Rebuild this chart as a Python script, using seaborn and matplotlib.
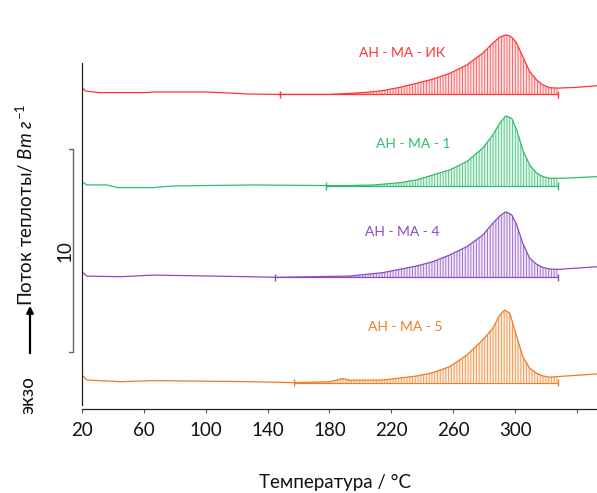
import numpy as np
import pandas as pd
import matplotlib
matplotlib.use("Agg")
import matplotlib.pyplot as plt
import seaborn as sns

# ---------------- data ----------------
t_ik = [20, 22, 31, 63, 66, 100, 128, 147, 180, 193, 205, 214.5, 225, 236.5, 246.8, 257.8,
        268.8, 279.1, 285.6, 290.1, 294, 296.6, 298.5, 301.1, 305, 309.5, 314, 317.9, 322.4,
        327.6, 340, 353]
v_ik = [0.37, 0.17, 0.09, 0.09, 0.12, 0.12, 0.02, 0.0, 0.0, 0.05, 0.11, 0.19, 0.34, 0.55,
        0.75, 1.04, 1.45, 2.03, 2.52, 2.82, 2.93, 2.88, 2.77, 2.52, 1.86, 1.12, 0.71, 0.47,
        0.33, 0.31, 0.35, 0.43]

t_1 = [20, 23, 36, 43, 66, 79, 130, 178, 193, 209, 225.5, 236.5, 246.8, 257.8, 268.8,
       279.1, 285.6, 290.1, 294, 297.9, 301.1, 305, 309.5, 314, 317.9, 322.4, 327.6,
       331, 353]
v_1 = [0.21, 0.05, 0.05, -0.08, -0.08, 0.0, 0.05, 0.02, 0.02, 0.05, 0.16, 0.30, 0.54,
       0.79, 1.20, 1.86, 2.51, 3.09, 3.45, 3.33, 2.76, 1.77, 1.03, 0.63, 0.46, 0.38, 0.38,
       0.38, 0.46]

t_4 = [20, 23, 45, 66, 128, 145, 193, 214.5, 236.5, 246.8, 257.8, 268.8, 279.1, 285.6,
       290.1, 294, 297.9, 301.1, 305, 309.5, 314, 317.9, 322.4, 327.6, 353]
v_4 = [0.28, 0.06, 0.03, 0.11, 0.03, 0.0, 0.06, 0.23, 0.56, 0.77, 1.10, 1.51, 2.08, 2.66,
       3.02, 3.23, 3.07, 2.58, 1.67, 0.94, 0.64, 0.49, 0.41, 0.39, 0.52]

t_5 = [20, 23, 45, 66, 128, 157, 180.3, 188.7, 193.2, 214.5, 236.5, 246.8, 257.8, 268.8,
       279.1, 285.6, 290.1, 293.3, 296.6, 301.1, 305, 309.5, 314, 317.9, 322.4, 327.6, 353]
v_5 = [0.38, 0.13, 0.05, 0.10, 0.05, 0.0, 0.05, 0.20, 0.12, 0.13, 0.33, 0.49, 0.79, 1.36,
       2.10, 2.68, 3.33, 3.58, 3.42, 2.27, 1.28, 0.71, 0.46, 0.33, 0.27, 0.30, 0.43]

labels = ["АН - МА - ИК", "АН - МА - 1", "АН - МА - 4", "АН - МА - 5"]
offsets = [15.30, 10.79, 6.29, 1.10]
int_start = [148, 178, 145, 157]
int_end = [327.6, 327.6, 327.6, 327.6]
x_ticks = [20, 60, 100, 140, 180, 220, 260, 300, 340]
x_ticklabels = ["20", "60", "100", "140", "180", "220", "260", "300", ""]
scale_bar = 10

colors = ["#FF3535", "#2DBD6C", "#8A4CC2", "#EE7D22"]
label_pos = [(227, 17.34), (234, 12.86), (227, 8.52), (228.7, 3.84)]

# ---------------- plotting ----------------
sns.set_theme(style="white")
plt.rcParams["font.family"] = ["Lato", "DejaVu Sans"]
plt.rcParams["mathtext.fontset"] = "custom"
plt.rcParams["mathtext.it"] = "Lato:italic"
plt.rcParams["mathtext.rm"] = "Lato"
plt.rcParams["hatch.linewidth"] = 0.7

PX = 20.3  # pixels per W/g unit
fig = plt.figure(figsize=(5.97, 4.93), dpi=100)
ax = fig.add_axes([82 / 597, 88 / 493, 1 - 82 / 597, (405 - 15) / 493])

series = [(t_ik, v_ik), (t_1, v_1), (t_4, v_4), (t_5, v_5)]
for (t, v), lab, off, c, s, e in zip(series, labels, offsets, colors, int_start, int_end):
    t = np.asarray(t, float)
    y = np.asarray(v, float) + off
    df = pd.DataFrame({"T": t, "y": y})
    sns.lineplot(data=df, x="T", y="y", ax=ax, color=c, lw=0.9, sort=False)
    m = (t >= s - 1) & (t <= e + 0.1)
    ax.fill_between(t[m], y[m], off, facecolor=matplotlib.colors.to_rgba(c, 0.12),
                    edgecolor=matplotlib.colors.to_rgba(c, 0.75), hatch="||||||", linewidth=0)
    ax.plot([t[m][0], t[m][-1]], [off, off], color=c, lw=0.9)
    ax.vlines([s, e], off - 0.18, off + 0.18, color=c, lw=1.0)

for lab, c, (lx, ly) in zip(labels, colors, label_pos):
    ax.text(lx, ly, lab, color=c, fontsize=10, ha="center", va="center")

ax.set_xlim(20, 353)
ax.set_ylim(0, (405 - 15) / PX)
ax.set_xticks(x_ticks)
ax.set_xticklabels(x_ticklabels)
ax.set_yticks([])
ax.set_xlabel("")
ax.set_ylabel("")
for sp in ["top", "right"]:
    ax.spines[sp].set_visible(False)
ax.spines["left"].set_bounds(0, (405 - 63) / PX)
ax.spines["bottom"].set_position(("outward", 3))
for sp in ["left", "bottom"]:
    ax.spines[sp].set_color("#222222")
    ax.spines[sp].set_linewidth(0.9)
ax.tick_params(axis="x", direction="out", length=3, width=0.8, color="#555555",
               labelsize=13.5, pad=6, labelcolor="#111111", bottom=True)

# scale bar
top_y = (405 - 149.3) / PX
bot_y = top_y - scale_bar
xb = -9 / 515
ax.plot([xb, xb], [bot_y, top_y], color="#666666", lw=1.0, transform=ax.get_yaxis_transform(),
        clip_on=False)
for yy in (bot_y, top_y):
    ax.plot([xb - 4 / 515, xb], [yy, yy], color="#666666", lw=1.0,
            transform=ax.get_yaxis_transform(), clip_on=False)
ax.text(-17 / 515, (bot_y + top_y) / 2, str(scale_bar), rotation=90, ha="center", va="center",
        fontsize=13.5, transform=ax.get_yaxis_transform(), color="#111111")

# left labels
fig.text(25 / 597, 1 - 205 / 493, r"Поток теплоты/ $Вт\ г^{-1}$", rotation=90, ha="center",
         va="center", fontsize=13.5, color="#111111")
fig.text(28 / 597, 1 - 395 / 493, "экзо", rotation=90, ha="center", va="center",
         fontsize=13.5, color="#111111")
fig.patches.append(matplotlib.patches.FancyArrowPatch(
    (30 / 597, 1 - 356 / 493), (30 / 597, 1 - 303 / 493), transform=fig.transFigure,
    arrowstyle="-|>", mutation_scale=10, color="black", lw=1.6))

fig.text(335 / 597, 1 - 482 / 493, "Температура / °C", ha="center", va="center",
         fontsize=13.5, color="#111111")

fig.savefig("out.png", dpi=100)
